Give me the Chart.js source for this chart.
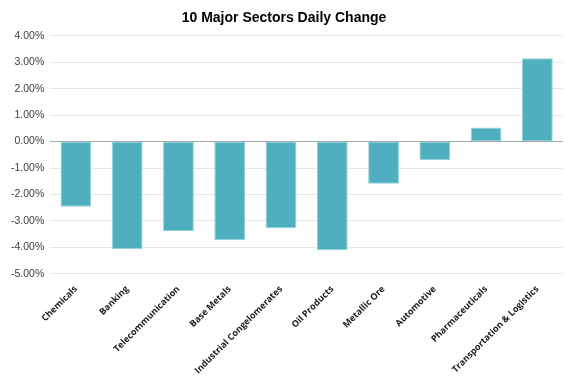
<!DOCTYPE html>
<html>
<head>
<meta charset="utf-8">
<script src="https://cdn.jsdelivr.net/npm/chart.js@4"></script>
<style>
  html, body { margin: 0; padding: 0; background: #ffffff; }
  #wrap { width: 577px; height: 380px; }
</style>
</head>
<body>
<div id="wrap"><canvas id="chart" width="577" height="380"></canvas></div>
<script>
const sectors = ['Chemicals', 'Banking', 'Telecommunication', 'Base Metals', 'Industrial Congelomerates',
    'Oil Products', 'Metallic Ore', 'Automotive', 'Pharmaceuticals', 'Transportation & Logistics'];
const dailyChange = [-2.46, -4.07, -3.38, -3.72, -3.28, -4.10, -1.59, -0.71, 0.53, 3.15];
const yMin = -5;
const yMax = 4;
const yStep = 1;

const ctx = document.getElementById('chart').getContext('2d');

new Chart(ctx, {
    type: 'bar',
    data: {
        labels: sectors,
        datasets: [{
            data: dailyChange,
            backgroundColor: '#4fafbf',
            borderColor: '#8fcfd9',
            borderWidth: 1,
            borderSkipped: false,
            categoryPercentage: 1.0,
            barPercentage: 0.6
        }]
    },
    options: {
        responsive: false,
        animation: false,
        layout: { padding: { left: 5, right: 14, top: 0, bottom: 2 } },
        plugins: {
            legend: { display: false },
            tooltip: { enabled: false },
            title: {
                display: true,
                text: '10 Major Sectors Daily Change',
                color: '#000000',
                font: { family: 'Liberation Sans', size: 14, weight: 'bold' },
                padding: { top: 10, bottom: 9 }
            }
        },
        scales: {
            x: {
                grid: { display: false },
                border: { display: false },
                ticks: {
                    color: '#1a1a1a',
                    minRotation: 45,
                    maxRotation: 45,
                    autoSkip: false,
                    padding: 2,
                    font: { family: 'Open Sans', size: 9, weight: 'bold' }
                }
            },
            y: {
                min: yMin,
                max: yMax,
                border: { display: false },
                grid: {
                    drawTicks: false,
                    color: c => c.tick.value === 0 ? '#a6a6a6' : '#e6e6e6'
                },
                ticks: {
                    stepSize: yStep,
                    padding: 6,
                    color: '#404040',
                    font: { family: 'Liberation Sans', size: 10.5 },
                    callback: v => v.toFixed(2) + '%'
                }
            }
        }
    }
});
</script>
</body>
</html>
